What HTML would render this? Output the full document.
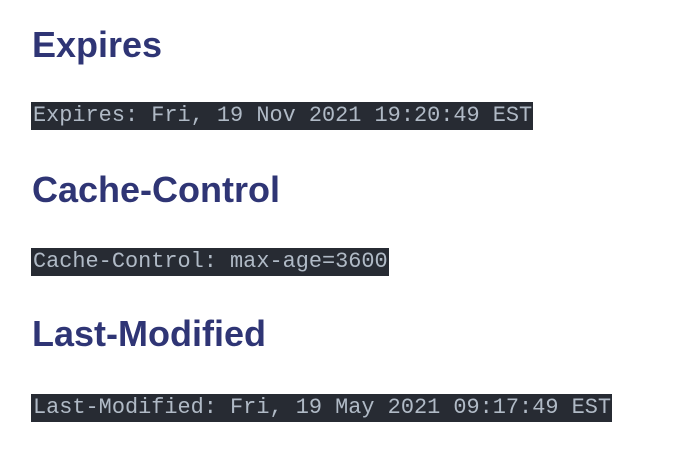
<!DOCTYPE html>
<html><head><meta charset="utf-8"><style>
html,body{margin:0;padding:0;background:#fff;width:699px;height:456px;overflow:hidden;position:relative}
h2{position:absolute;left:32px;margin:0;font:bold 36px/36px "Liberation Sans",sans-serif;color:#2f3575;white-space:nowrap}
.c{position:absolute;left:31px;height:28px;background:#272b33;color:#b0bac6;font:21.9px/28px "Liberation Mono",monospace;padding:0 1px 0 2px;white-space:pre}
</style></head><body>
<h2 style="top:27px">Expires</h2>
<div class="c" style="top:102px">Expires: Fri, 19 Nov 2021 19:20:49 EST</div>
<h2 style="top:172px">Cache-Control</h2>
<div class="c" style="top:248px">Cache-Control: max-age=3600</div>
<h2 style="top:316px">Last-Modified</h2>
<div class="c" style="top:394px">Last-Modified: Fri, 19 May 2021 09:17:49 EST</div>
</body></html>
